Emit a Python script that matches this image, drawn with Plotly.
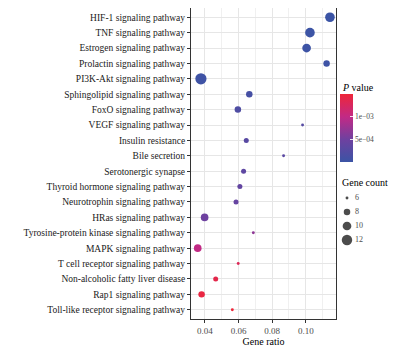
import numpy as np
import plotly.graph_objects as go

pathways = [
    "HIF-1 signaling pathway",
    "TNF signaling pathway",
    "Estrogen signaling pathway",
    "Prolactin signaling pathway",
    "PI3K-Akt signaling pathway",
    "Sphingolipid signaling pathway",
    "FoxO signaling pathway",
    "VEGF signaling pathway",
    "Insulin resistance",
    "Bile secretion",
    "Serotonergic synapse",
    "Thyroid hormone signaling pathway",
    "Neurotrophin signaling pathway",
    "HRas signaling pathway",
    "Tyrosine-protein kinase signaling pathway",
    "MAPK signaling pathway",
    "T cell receptor signaling pathway",
    "Non-alcoholic fatty liver disease",
    "Rap1 signaling pathway",
    "Toll-like receptor signaling pathway",
]
gene_ratio = [0.1144, 0.1025, 0.1005, 0.1124, 0.0376, 0.0664, 0.0596, 0.0981,
              0.0646, 0.0868, 0.0630, 0.0608, 0.0585, 0.0398, 0.0688, 0.0357,
              0.0598, 0.0464, 0.0380, 0.0563]
gene_count = [11, 11, 10, 8, 13, 8, 8, 6, 7, 6, 7, 7, 7, 9, 6, 9, 6, 7, 8, 6]
p_value = [1.2e-5, 2.0e-5, 3.0e-5, 4.0e-5, 5.0e-5, 1.2e-4, 2.0e-4, 2.6e-4,
           2.9e-4, 3.1e-4, 3.5e-4, 4.0e-4, 4.3e-4, 5.0e-4, 7.0e-4, 1.0e-3,
           1.3e-3, 1.38e-3, 1.44e-3, 1.5e-3]
legend_counts = [6, 8, 10, 12]
x_ticks = [0.04, 0.06, 0.08, 0.10]
x_tick_labels = ["0.04", "0.06", "0.08", "0.10"]
cbar_ticks = [5e-4, 1e-3]
cbar_labels = ["5e\u221204", "1e\u221203"]


def size_scale(c):
    return np.sqrt(16.8 * (np.asarray(c, dtype=float) - 5.5)).tolist()


FONT = "Liberation Serif"
colorscale = [[0.0, "#3B54A5"], [0.33, "#6E41A0"], [0.66, "#C12A86"], [1.0, "#EE2639"]]

# page body has an 8px margin: figure sits at (8, 8) in the 418x350 window
W, H = 410, 342
ML, MT, MB, MR = 183, 0, 31, 0
pw = W - ML - MR  # paper width in px (screen x 191..418)
ph = H - MT - MB  # paper height in px (screen y 8..319)


def px_x(sx):
    return (sx - 8 - ML) / pw


def px_y(sy):
    return (H - MB - (sy - 8)) / ph


fig = go.Figure()
fig.add_trace(go.Scatter(
    x=gene_ratio, y=pathways, mode="markers", showlegend=False,
    xaxis="x", yaxis="y",
    marker=dict(size=size_scale(gene_count), color=p_value, colorscale=colorscale,
                cmin=min(p_value), cmax=max(p_value), line=dict(width=0), opacity=1,
                colorbar=dict(
                    thickness=13, thicknessmode="pixels", len=68, lenmode="pixels",
                    x=px_x(340), xanchor="left", xpad=0, y=px_y(128), yanchor="middle", ypad=0,
                    outlinewidth=0, tickvals=cbar_ticks, ticktext=cbar_labels,
                    ticks="inside", ticklen=3, tickcolor="rgba(255,255,255,0.85)",
                    tickfont=dict(family=FONT, size=7.5, color="#4D4D4D"),
                )),
    hoverinfo="skip",
))

# size legend drawn as an inset scatter
fig.add_trace(go.Scatter(
    x=[0] * len(legend_counts), y=legend_counts, mode="markers", showlegend=False,
    marker=dict(size=size_scale(legend_counts), color="black", line=dict(width=0)),
    xaxis="x2", yaxis="y2", hoverinfo="skip",
))
fig.add_trace(go.Scatter(
    x=[0.9] * len(legend_counts), y=legend_counts, mode="text", showlegend=False,
    text=[str(c) for c in legend_counts], textposition="middle right",
    textfont=dict(family=FONT, size=8, color="#4D4D4D"),
    xaxis="x2", yaxis="y2", hoverinfo="skip",
))

fig.update_layout(
    width=W, height=H,
    margin=dict(l=ML, r=MR, t=MT, b=MB, pad=0, autoexpand=False),
    paper_bgcolor="white", plot_bgcolor="white",
    font=dict(family=FONT, color="#000"),
    showlegend=False,
    xaxis=dict(
        domain=[0, 145 / pw], anchor="y",
        automargin=False,
        range=[0.0317, 0.118], tickvals=x_ticks, ticktext=x_tick_labels,
        showgrid=True, gridcolor="#E6E6E6", gridwidth=1,
        minor=dict(dtick=0.01, tick0=0.0, showgrid=True, gridcolor="#F0F0F0", gridwidth=0.6),
        showline=True, linecolor="#333", linewidth=1, mirror=True,
        ticks="outside", ticklen=3, tickcolor="#333",
        tickfont=dict(family=FONT, size=9, color="#4D4D4D"),
        title=dict(text="Gene ratio", font=dict(family=FONT, size=10, color="#000"), standoff=3),
        zeroline=False,
    ),
    yaxis=dict(
        domain=[0, 1], anchor="x",
        automargin=False,
        categoryorder="array", categoryarray=pathways, autorange=False, range=[19.6, -0.6],
        showgrid=True, gridcolor="#E6E6E6", gridwidth=1,
        showline=True, linecolor="#333", linewidth=1, mirror=True,
        ticks="outside", ticklen=3, tickcolor="#333",
        tickfont=dict(family=FONT, size=9.5, color="#1a1a1a"),
        zeroline=False,
    ),
    xaxis2=dict(domain=[px_x(340), px_x(400)], range=[-7 / 9, -7 / 9 + 60 / 9],
                anchor="y2", visible=False, fixedrange=True),
    yaxis2=dict(domain=[px_y(247), px_y(191)], range=[13, 5], anchor="x2",
                visible=False, fixedrange=True),
    annotations=[
        dict(text="<i>P</i> value", xref="paper", yref="paper", x=px_x(340), y=px_y(87),
             xanchor="left", yanchor="middle", showarrow=False,
             font=dict(family=FONT, size=10, color="#000")),
        dict(text="Gene count", xref="paper", yref="paper", x=px_x(340), y=px_y(183),
             xanchor="left", yanchor="middle", showarrow=False,
             font=dict(family=FONT, size=10, color="#000")),
    ],
)
fig.write_html("out.html")
